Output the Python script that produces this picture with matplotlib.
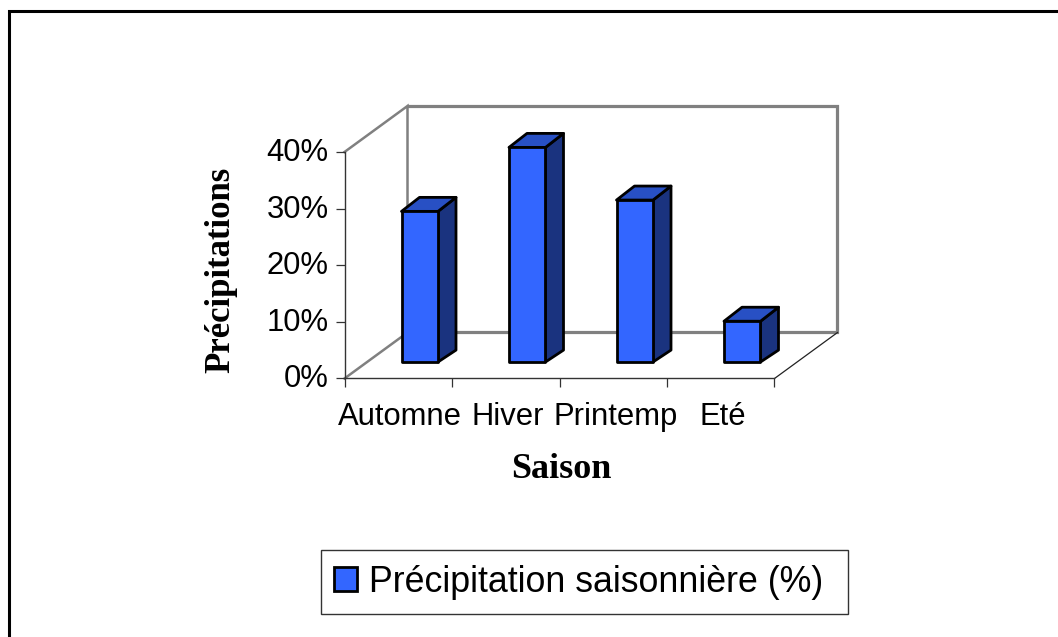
import matplotlib
matplotlib.use("Agg")
import matplotlib.pyplot as plt
from matplotlib.patches import Patch, Polygon, Rectangle
from matplotlib.lines import Line2D
from matplotlib.transforms import ScaledTranslation

categories = ["Automne", "Hiver", "Printemp", "Eté"]
values = [26.6, 37.9, 28.6, 7.2]
yticks = [0, 10, 20, 30, 40]
ytick_labels = ["0%", "10%", "20%", "30%", "40%"]
legend_label = "Précipitation saisonnière (%)"

W, H = 1058, 637
fig = plt.figure(figsize=(W / 100, H / 100), dpi=100, facecolor="white")
L, R, T, B = 344.5, 774.5, 152, 378.5
ax = fig.add_axes([L / W, 1 - B / H, (R - L) / W, (B - T) / H])
ax.set_xlim(0, 4)
ax.set_ylim(0, 40)
ax.patch.set_visible(False)

px_x = 4 / (R - L)
px_y = 40 / (B - T)
depth_x, depth_y = 63 * px_x, 46 * px_y
bar_w = 36.5 * px_x
side_x, side_y = 18 * px_x, 14 * px_y
base_x, base_y = 21.5 * px_x, 16.5 * px_y

grey = "#808080"
for xs, ys, lw, col in [
    ([0, depth_x, depth_x], [40, 40 + depth_y, depth_y], 1.8, grey),
    ([depth_x, 4 + depth_x, 4 + depth_x, depth_x], [40 + depth_y, 40 + depth_y, depth_y, depth_y], 2.3, grey),
    ([0, depth_x], [0, depth_y], 1.8, grey),
    ([4, 4 + depth_x], [0, depth_y], 0.9, "#222222"),
]:
    ax.plot(xs, ys, color=col, lw=lw, clip_on=False, zorder=1, solid_joinstyle="miter")

front, topc, sidec = "#3366FF", "#2850C4", "#1A337F"
edge = dict(edgecolor="black", linewidth=2.0, joinstyle="round")
positions = [i + 0.5 + base_x for i in range(len(values))]
for p, v in zip(positions, values):
    x0, x1 = p - bar_w / 2, p + bar_w / 2
    y0, y1 = base_y, base_y + v
    ax.add_patch(Polygon([(x1, y0), (x1 + side_x, y0 + side_y * 0.85), (x1 + side_x, y1 + side_y), (x1, y1)],
                         facecolor=sidec, clip_on=False, zorder=3, **edge))
    ax.add_patch(Polygon([(x0, y1), (x0 + side_x, y1 + side_y), (x1 + side_x, y1 + side_y), (x1, y1)],
                         facecolor=topc, clip_on=False, zorder=3, **edge))
    ax.bar(p, v, width=bar_w, bottom=base_y, color=front, clip_on=False, zorder=4, **edge)

for s in ("top", "right"):
    ax.spines[s].set_visible(False)
for s in ("left", "bottom"):
    ax.spines[s].set_color("#333333")
    ax.spines[s].set_linewidth(1.0)

sans = "Liberation Sans"
serif = "Liberation Serif"
ax.set_yticks(yticks)
ax.set_yticklabels(ytick_labels, fontfamily=sans, fontsize=22.3, color="black")
ax.set_xticks(range(5))
ax.set_xticklabels([""] * 5)
ax.tick_params(axis="both", length=6.5, width=0.9, color="#333333")
ax.tick_params(axis="y", pad=5)
shift = ScaledTranslation(0, 2.5 / 100, fig.dpi_scale_trans)
for lab in ax.get_yticklabels():
    lab.set_transform(lab.get_transform() + shift)
for i, c in enumerate(categories):
    ax.annotate(c, xy=(i + 0.5, 0), xycoords=("data", "axes fraction"),
                xytext=(1.5, -17), textcoords="offset points", ha="center", va="top",
                fontfamily=sans, fontsize=22.3, annotation_clip=False)

fig.text(221 / W, 1 - 270 / H, "Précipitations", rotation=90, ha="center", va="center",
         fontfamily=serif, fontweight="bold", fontsize=25)
fig.text(561 / W, 1 - 470 / H, "Saison", ha="center", va="center",
         fontfamily=serif, fontweight="bold", fontsize=26)

fig.add_artist(Rectangle((320.5 / W, 1 - 614 / H), 527 / W, 64 / H, transform=fig.transFigure,
                         facecolor="white", edgecolor="#333333", linewidth=1.0))
handle = Patch(facecolor=front, edgecolor="black", linewidth=2.0)
leg = fig.legend(handles=[handle], labels=[legend_label], loc="center left",
                 bbox_to_anchor=(334 / W, 1 - 582 / H), frameon=False,
                 prop=dict(family=sans, size=25.75),
                 handlelength=0.64, handleheight=0.64, handletextpad=0.33, borderpad=0, borderaxespad=0)

frame_col = "black"
fig.add_artist(Line2D([8.5 / W, 8.5 / W, 1], [0, 1 - 10.5 / H, 1 - 10.5 / H], transform=fig.transFigure,
                      color=frame_col, linewidth=2.2, solid_joinstyle="miter"))

fig.savefig("out.png", dpi=100)
